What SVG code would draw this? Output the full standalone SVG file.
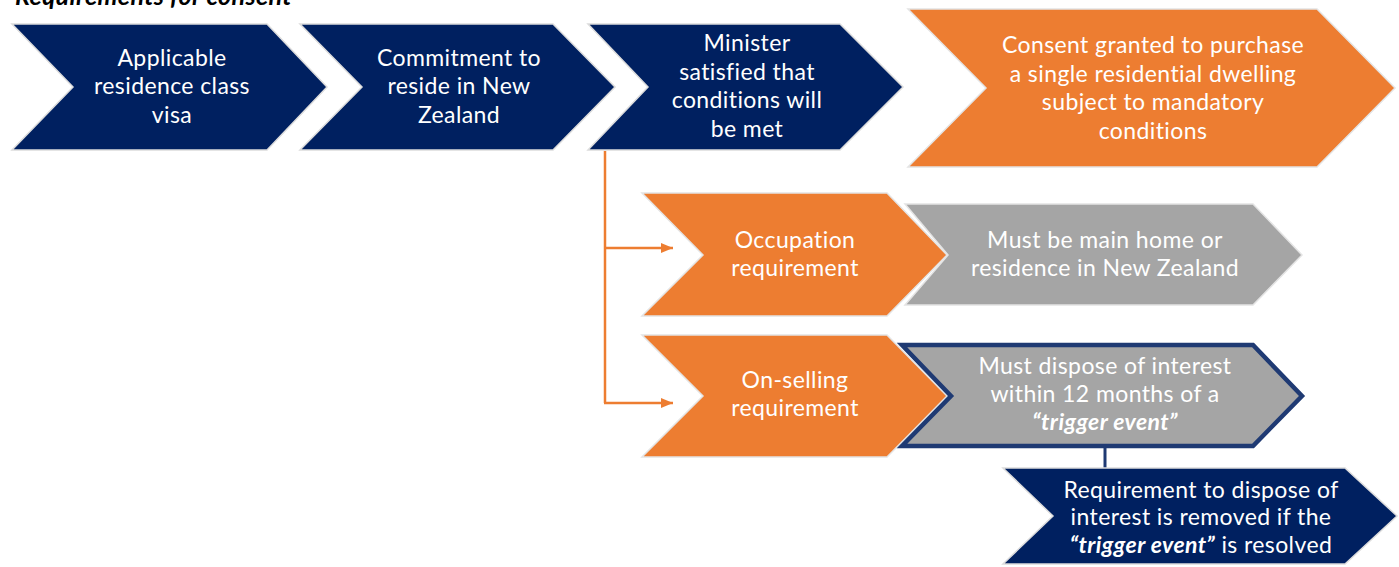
<svg xmlns="http://www.w3.org/2000/svg" width="1399" height="567" viewBox="0 0 1399 567">
<defs>
<style>
.navy{fill:#002060;stroke:#dcdcdc;stroke-width:1.5}
.orange{fill:#ED7D31;stroke:#e4e4e4;stroke-width:1.5}
.gray{fill:#A5A5A5;stroke:#e4e4e4;stroke-width:1.5}
.grayb{fill:#A5A5A5;stroke:#1F3A73;stroke-width:4.5}
text{font-family:Lato,"Liberation Sans",sans-serif;font-size:23px;letter-spacing:0.4px;fill:#ffffff;text-anchor:middle}
.title{font-family:Lato,"Liberation Sans",sans-serif;font-size:25px;letter-spacing:0.4px;font-weight:bold;font-style:italic;fill:#000;text-anchor:start}
.bi{font-weight:bold;font-style:italic}
.oc{stroke:#ED7D31;stroke-width:2.5;fill:none}
</style>
<marker id="oarr" viewBox="0 0 12 10" refX="12" refY="5" markerWidth="12" markerHeight="10" markerUnits="userSpaceOnUse" orient="auto">
<path d="M0,0 L12,5 L0,10 Z" fill="#ED7D31"/>
</marker>
</defs>
<text class="title" x="15" y="5">Requirements for consent</text>

<g id="connectors">
<path class="oc" d="M605,151 V403"/>
<path class="oc" d="M604,248 H673" marker-end="url(#oarr)"/>
<path class="oc" d="M604,403 H673" marker-end="url(#oarr)"/>
<path d="M1105,448 V469" stroke="#1F3A73" stroke-width="3"/>
</g>

<g id="n1">
<path class="navy" d="M12,24 H267 L327,87 L267,150 H12 L73,87 Z"/>
<text x="172" y="66">Applicable</text>
<text x="172" y="94">residence class</text>
<text x="172" y="123">visa</text>
</g>
<g id="n2">
<path class="navy" d="M300,24 H553 L615,87 L553,150 H300 L362,87 Z"/>
<text x="459" y="66">Commitment to</text>
<text x="459" y="94">reside in New</text>
<text x="459" y="123">Zealand</text>
</g>
<g id="n3">
<path class="navy" d="M588,24 H840 L903,87 L840,150 H588 L648,87 Z"/>
<text x="747" y="51">Minister</text>
<text x="747" y="80">satisfied that</text>
<text x="747" y="108">conditions will</text>
<text x="747" y="137">be met</text>
</g>
<g id="n4">
<path class="orange" d="M908,9 H1317 L1395,88 L1317,167 H908 L986,88 Z"/>
<text x="1153" y="53">Consent granted to purchase</text>
<text x="1153" y="82">a single residential dwelling</text>
<text x="1153" y="110">subject to mandatory</text>
<text x="1153" y="139">conditions</text>
</g>
<g id="n5">
<path class="orange" d="M642,193 H887 L947,255 L887,316 H642 L703,255 Z"/>
<text x="795" y="248">Occupation</text>
<text x="795" y="276">requirement</text>
</g>
<g id="n6">
<path class="gray" d="M905,204 H1253 L1302,255 L1253,305 H905 L948,255 Z"/>
<text x="1105" y="248">Must be main home or</text>
<text x="1105" y="276">residence in New Zealand</text>
</g>
<g id="n7">
<path class="orange" d="M642,335 H887 L947,396 L887,457 H642 L703,396 Z"/>
<text x="795" y="388">On-selling</text>
<text x="795" y="416">requirement</text>
</g>
<g id="n8">
<path class="grayb" d="M902,345 H1253 L1302,396 L1253,446 H902 L951,396 Z"/>
<text x="1105" y="374">Must dispose of interest</text>
<text x="1105" y="402">within 12 months of a</text>
<text x="1105" y="430" class="bi">“trigger event”</text>
</g>
<g id="n9">
<path class="navy" d="M1003,468 H1345 L1397,516 L1345,564 H1003 L1053,516 Z"/>
<text x="1201" y="498">Requirement to dispose of</text>
<text x="1201" y="525">interest is removed if the</text>
<text x="1201" y="553"><tspan class="bi">“trigger event”</tspan> is resolved</text>
</g>
</svg>
